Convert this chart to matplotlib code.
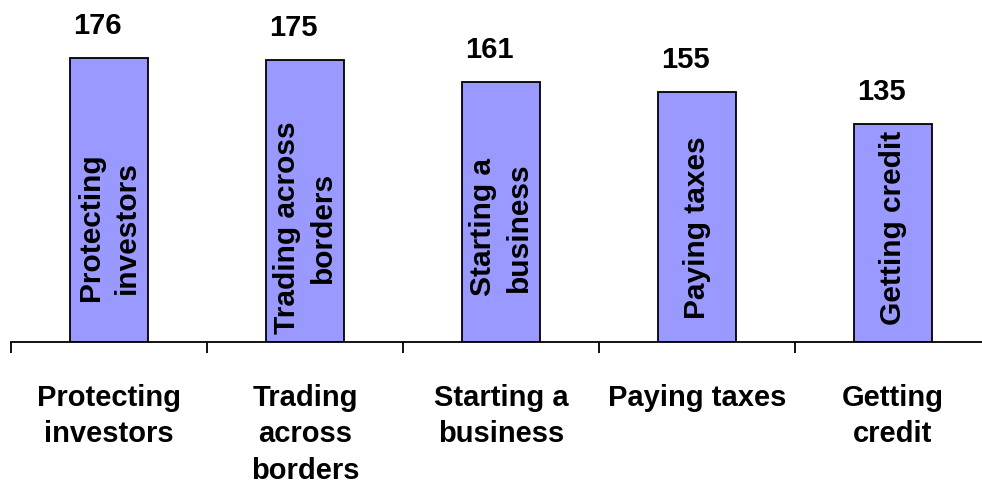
import matplotlib
matplotlib.use("Agg")
import matplotlib.pyplot as plt
import numpy as np

categories = ["Protecting\ninvestors", "Trading\nacross\nborders", "Starting a\nbusiness",
              "Paying taxes", "Getting\ncredit"]
bar_labels = ["Protecting\ninvestors", "Trading across\nborders", "Starting a\nbusiness",
              "Paying taxes", "Getting credit"]
values = [176, 175, 161, 155, 135]

plt.rcParams['font.family'] = ['Liberation Sans', 'DejaVu Sans']

fig = plt.figure(figsize=(9.82, 4.84), dpi=100)
ax = fig.add_axes([11/982, 142/484, 980/982, 322.8/484])

x = np.arange(len(values))
bars = ax.bar(x, values, width=0.40, color='#9999FF', edgecolor='black', linewidth=1.3, zorder=2)

ax.set_xlim(-0.5, len(values) - 0.5)
ax.set_ylim(0, 200)

for xi, v, lab in zip(x, values, bar_labels):
    ax.annotate(str(v), xy=(xi, v), xytext=(-8.6, 23), textcoords='offset points',
                ha='center', va='center', fontsize=21, fontweight='bold', annotation_clip=False)
    ax.text(xi, 71, lab, rotation=90, ha='center', va='center', multialignment='center',
            fontsize=21.5, fontweight='bold', linespacing=1.35)

for s in ['top', 'right', 'left']:
    ax.spines[s].set_visible(False)
ax.spines['bottom'].set_linewidth(1.3)
ax.set_yticks([])

ax.set_xticks(x)
ax.set_xticklabels(categories, fontsize=21, fontweight='bold', linespacing=1.4)
ax.tick_params(axis='x', which='major', length=0, pad=30)
ax.set_xticks(np.arange(-0.5, len(values)), minor=True)
ax.tick_params(axis='x', which='minor', length=8, width=1.3, direction='out')

fig.savefig("out.png", dpi=100)
